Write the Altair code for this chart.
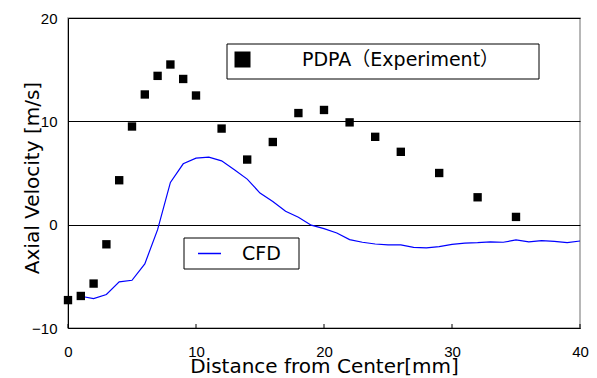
import altair as alt
import pandas as pd

# PDPA (experiment) points
pdpa_x = [0, 1, 2, 3, 4, 5, 6, 7, 8, 9, 10, 12, 14, 16, 18, 20, 22, 24, 26, 29, 32, 35]
pdpa_y = [-7.3, -6.9, -5.7, -1.9, 4.3, 9.5, 12.6, 14.4, 15.5, 14.1, 12.5, 9.3, 6.3, 8.0,
          10.8, 11.1, 9.9, 8.5, 7.05, 5.0, 2.65, 0.75]

# CFD line
cfd_x = list(range(1, 41))
cfd_y = [-6.93, -7.15, -6.76, -5.54, -5.38, -3.8, -0.48, 4.09, 5.89, 6.44,
         6.54, 6.18, 5.31, 4.41, 3.06, 2.25, 1.29, 0.71, -0.05, -0.39,
         -0.8, -1.45, -1.7, -1.87, -1.95, -1.96, -2.2, -2.25, -2.12, -1.9,
         -1.78, -1.74, -1.67, -1.7, -1.48, -1.67, -1.55, -1.61, -1.74, -1.58]

x_ticks = [0, 10, 20, 30, 40]
y_ticks = [-10, 0, 10, 20]

label_pdpa = "PDPA（Experiment）"
label_cfd = "CFD"

pdpa_df = pd.DataFrame({"x": pdpa_x, "y": pdpa_y, "series": label_pdpa})
cfd_df = pd.DataFrame({"x": cfd_x, "y": cfd_y, "series": label_cfd})
tick_df = pd.DataFrame({"t": x_ticks})

LABEL_FONT = "Liberation Sans"
TITLE_FONT = "DejaVu Sans, Noto Sans CJK JP"

x_enc = alt.X(
    "x:Q",
    scale=alt.Scale(domain=[0, 40], nice=False),
    axis=alt.Axis(
        values=x_ticks, ticks=False, grid=False, domainColor="black", domainWidth=1,
        labelFont=LABEL_FONT, labelFontSize=15, labelColor="black", labelPadding=16,
        labelFlush=False,
        title="Distance from Center[mm]", titleFont=TITLE_FONT, titleFontSize=20,
        titleFontWeight="normal", titleColor="black", titleX=256, titleY=44.7,
        titleAlign="center", titleBaseline="alphabetic",
    ),
)
y_enc = alt.Y(
    "y:Q",
    scale=alt.Scale(domain=[-10, 20], nice=False),
    axis=alt.Axis(
        values=y_ticks, ticks=False, grid=True, gridColor="black", gridOpacity=1,
        gridWidth=1, domainColor="black", domainWidth=1,
        labelFont=LABEL_FONT, labelFontSize=15, labelColor="black", labelPadding=11,
        labelFlush=False,
        title="Axial Velocity [m/s]", titleFont=TITLE_FONT, titleFontSize=20,
        titleFontWeight="normal", titleColor="black", titleAngle=270,
        titleX=-30, titleY=159.5, titleAlign="center", titleBaseline="alphabetic",
    ),
)

frames = alt.Chart(alt.Data(values=[{"k": 1}, {"k": 2}])).transform_calculate(
    x1="datum.k == 1 ? 159 : 116",
    x2="datum.k == 1 ? 471 : 231",
    y1="datum.k == 1 ? 26 : 220",
    y2="datum.k == 1 ? 61 : 251",
).mark_rect(fill="white", stroke="black", strokeWidth=1).encode(
    x=alt.X("x1:Q", scale=None), x2="x2:Q",
    y=alt.Y("y1:Q", scale=None), y2="y2:Q",
)

ticks = alt.Chart(tick_df).mark_rule(color="black", strokeWidth=1).encode(
    x=alt.X("t:Q"), y=alt.value(306), y2=alt.value(310)
)

line = alt.Chart(cfd_df).mark_line(strokeWidth=1.2).encode(
    x=x_enc, y=y_enc,
    color=alt.Color(
        "series:N",
        scale=alt.Scale(domain=[label_cfd], range=["#0000ff"]),
        legend=alt.Legend(
            title=None, orient="none", legendX=129, legendY=223, padding=0,
            symbolType="stroke", symbolSize=529, symbolStrokeWidth=1.5,
            symbolStrokeColor="#0000ff", labelOffset=20, labelLimit=300,
            labelFont=TITLE_FONT, labelFontSize=19, labelColor="black",
        ),
    ),
)

points = alt.Chart(pdpa_df).mark_point(
    shape="square", filled=True, size=70, color="black", opacity=1
).encode(
    x=x_enc, y=y_enc,
    shape=alt.Shape(
        "series:N",
        scale=alt.Scale(domain=[label_pdpa], range=["square"]),
        legend=alt.Legend(
            title=None, orient="none", legendX=165, legendY=32, padding=0,
            symbolSize=256, symbolFillColor="black", symbolStrokeColor="black",
            symbolStrokeWidth=0, symbolOpacity=1, labelOffset=50, labelLimit=300,
            labelFont=TITLE_FONT, labelFontSize=19, labelColor="black",
        ),
    ),
)

chart = alt.layer(frames, ticks, line, points).resolve_scale(
    color="independent", shape="independent"
).properties(
    width=512, height=310,
    autosize=alt.AutoSizeParams(type="none"),
    padding={"left": 60, "top": 10, "right": 9, "bottom": 49},
    background="white",
).configure_view(stroke="#a0a0a0", strokeWidth=1.5)

chart.save("out.html", embed_options={"renderer": "svg", "actions": False})
